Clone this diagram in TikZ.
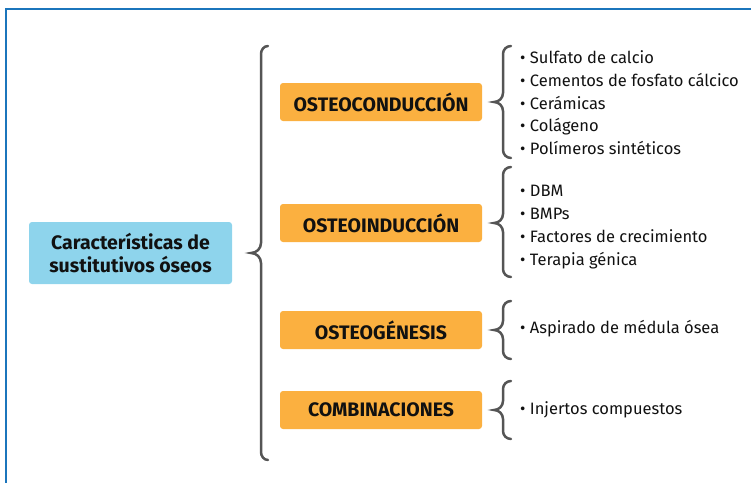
\documentclass[tikz,border=0pt]{standalone}
\usepackage{fontspec}
\setmainfont{Fira Sans}
\definecolor{frameblue}{HTML}{1B75BC}
\definecolor{boxblue}{HTML}{8ED4EC}
\definecolor{boxorange}{HTML}{FBB040}
\definecolor{bracegray}{HTML}{555555}
\definecolor{txt}{HTML}{111111}
\begin{document}
\begin{tikzpicture}[x=1pt,y=-1pt,
  mainbox/.style={fill=boxblue, rounded corners=3pt, minimum width=203pt, minimum height=62pt, align=center, text=txt,
    font=\fontsize{19.5}{22.5}\selectfont\bfseries, inner sep=0pt},
  catbox/.style={fill=boxorange, rounded corners=3pt, minimum width=202pt, minimum height=38pt, inner sep=0pt, text=txt,
    font=\fontsize{19.5}{22}\selectfont\bfseries},
  item/.style={anchor=base west, font=\fontsize{16.5}{19}\selectfont, inner sep=0pt, text=txt},
  bracestyle/.style={draw=bracegray, line width=2.5pt, line cap=round}]
\useasboundingbox (0,0) rectangle (751,482);
\draw[frameblue, line width=2.5pt] (6,495) -- (6,9) -- (765,9);

\node[mainbox] (main) at (130.5,253) {Características de\\sustitutivos óseos};

\node[catbox] (c1) at (381,102) {OSTEOCONDUCCIÓN};
\node[catbox] (c2) at (381,223) {OSTEOINDUCCIÓN};
\node[catbox] (c3) at (381,330) {OSTEOGÉNESIS};
\node[catbox] (c4) at (381,410) {COMBINACIONES};

% big brace
\draw[bracestyle] (268,46) to[out=180,in=90] (261,54) -- (261,243) to[out=-90,in=0] (251,253)
  to[out=0,in=90] (261,263) -- (261,452) to[out=-90,in=180] (268,460);

% small braces
\draw[bracestyle] (511,46) to[out=180,in=90] (503,54) -- (503,93) to[out=-90,in=0] (494,102)
  to[out=0,in=90] (503,111) -- (503,150) to[out=-90,in=180] (511,158);
\draw[bracestyle] (511,167) to[out=180,in=90] (503,175) -- (503,214) to[out=-90,in=0] (494,223)
  to[out=0,in=90] (503,232) -- (503,269) to[out=-90,in=180] (511,277);
\draw[bracestyle] (511,301) to[out=180,in=90] (503,309) -- (503,321) to[out=-90,in=0] (494,330)
  to[out=0,in=90] (503,339) -- (503,351) to[out=-90,in=180] (511,359);
\draw[bracestyle] (511,381) to[out=180,in=90] (503,389) -- (503,401) to[out=-90,in=0] (494,410)
  to[out=0,in=90] (503,419) -- (503,431) to[out=-90,in=180] (511,439);

\node[item] (i11) at (520,63.3) {• Sulfato de calcio};
\node[item] (i12) at (520,86.5) {• Cementos de fosfato cálcico};
\node[item] (i13) at (520,109) {• Cerámicas};
\node[item] (i14) at (520,131.7) {• Colágeno};
\node[item] (i15) at (520,154.3) {• Polímeros sintéticos};

\node[item] (i21) at (520,196.7) {• DBM};
\node[item] (i22) at (520,219.7) {• BMPs};
\node[item] (i23) at (520,242.5) {• Factores de crecimiento};
\node[item] (i24) at (520,265) {• Terapia génica};

\node[item] (i31) at (520,333.3) {• Aspirado de médula ósea};
\node[item] (i41) at (520,414) {• Injertos compuestos};
\end{tikzpicture}
\end{document}
